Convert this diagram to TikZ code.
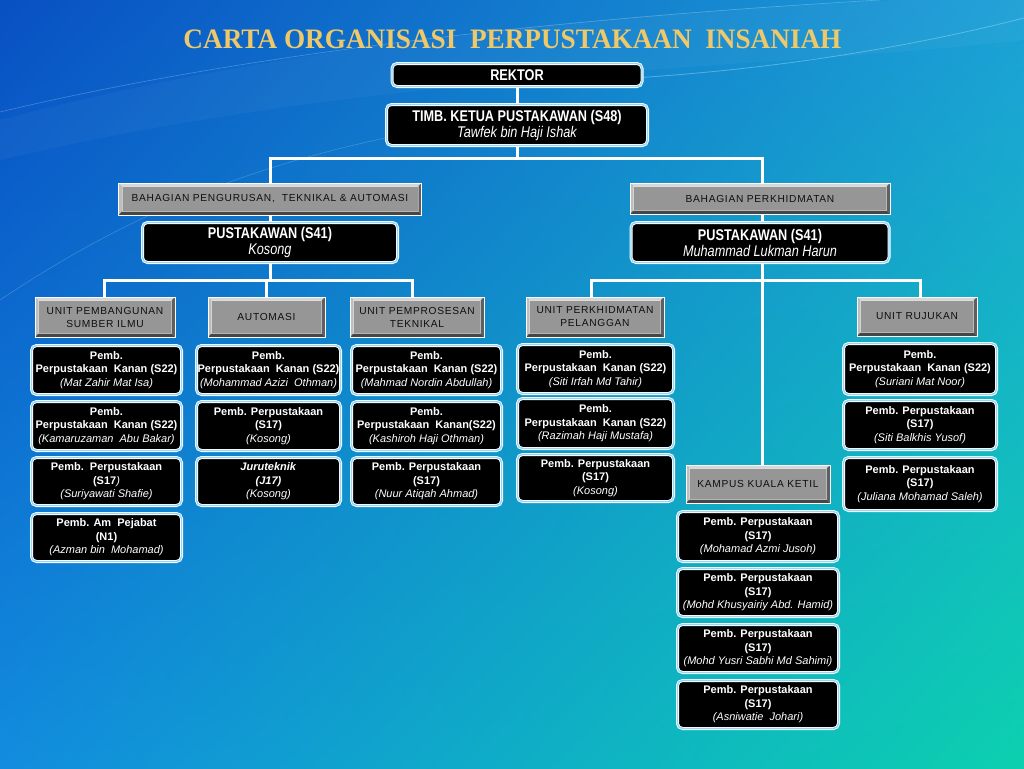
\documentclass[tikz,border=0pt]{standalone}
\usepackage{fontspec}
\setmainfont{Liberation Sans}
\newfontfamily\titlefont[FakeStretch=0.965]{Liberation Serif}
\newfontfamily\narrowfont[FakeStretch=0.82]{Liberation Sans}
\newfontfamily\greyfont[LetterSpace=7]{Liberation Sans}
\usetikzlibrary{calc,shadings}
\pgfdeclarelayer{bgl}
\pgfdeclarelayer{lnl}
\pgfsetlayers{bgl,lnl,main}
\definecolor{bgTL}{RGB}{8,80,195}
\definecolor{bgTR}{RGB}{28,160,215}
\definecolor{bgBL}{RGB}{18,140,222}
\definecolor{bgBR}{RGB}{12,208,175}
\definecolor{gold}{RGB}{238,200,105}
\definecolor{ringblue}{RGB}{150,215,245}
\definecolor{greyface}{RGB}{150,150,150}
\definecolor{bevlight}{RGB}{215,215,215}
\definecolor{bevmid}{RGB}{190,190,190}
\definecolor{bevdark}{RGB}{70,70,70}
\definecolor{bevdarktwo}{RGB}{95,95,95}
\definecolor{greytext}{RGB}{15,15,15}
\newcommand\pn[1]{{\mdseries\itshape #1}}
\tikzset{
  conn/.style={white, line width=3pt},
  blk/.style={rounded corners=5pt, fill=black, draw=white, double=ringblue,
    double distance=1.4pt, line width=0.8pt, text=white, align=center,
    inner sep=0pt, font=\fontsize{11}{13.5}\selectfont\bfseries},
  big/.style={blk, font=\narrowfont\fontsize{15.5}{16}\selectfont\bfseries},
  grey/.style={draw=white, line width=0.8pt, fill=greyface, text=greytext,
    align=center, inner sep=0pt, font=\greyfont\fontsize{10.2}{13}\selectfont,
    path picture={
      \fill[bevlight] (path picture bounding box.north west) -- (path picture bounding box.north east)
        -- ([xshift=-3.5pt,yshift=-3.5pt]path picture bounding box.north east)
        -- ([xshift=3.5pt,yshift=-3.5pt]path picture bounding box.north west) -- cycle;
      \fill[bevmid] (path picture bounding box.north west) -- (path picture bounding box.south west)
        -- ([xshift=3.5pt,yshift=3.5pt]path picture bounding box.south west)
        -- ([xshift=3.5pt,yshift=-3.5pt]path picture bounding box.north west) -- cycle;
      \fill[bevdark] (path picture bounding box.south west) -- (path picture bounding box.south east)
        -- ([xshift=-3.5pt,yshift=3.5pt]path picture bounding box.south east)
        -- ([xshift=3.5pt,yshift=3.5pt]path picture bounding box.south west) -- cycle;
      \fill[bevdarktwo] (path picture bounding box.north east) -- (path picture bounding box.south east)
        -- ([xshift=-3.5pt,yshift=3.5pt]path picture bounding box.south east)
        -- ([xshift=-3.5pt,yshift=-3.5pt]path picture bounding box.north east) -- cycle;
      \draw[white, opacity=0.45, line width=0.5pt] ([xshift=3.5pt,yshift=-3.5pt]path picture bounding box.north west)
        rectangle ([xshift=-3.5pt,yshift=3.5pt]path picture bounding box.south east);
    }},
  cA/.style={minimum width=150pt},
  cB/.style={minimum width=144pt},
  cC/.style={minimum width=150pt},
  cD/.style={minimum width=156pt},
  cE/.style={minimum width=161pt},
  cF/.style={minimum width=153pt},
}
\begin{document}
\begin{tikzpicture}[x=1pt,y=-1pt]
\useasboundingbox (0,0) rectangle (1024,768);
\begin{pgfonlayer}{bgl}
\shade[upper left=bgTL, upper right=bgTR, lower left=bgBL, lower right=bgBR] (0,0) rectangle (1024,768);
\fill[white, opacity=0.035] (0,120) .. controls (300,40) and (650,10) .. (900,0) -- (1024,0) -- (1024,40) .. controls (760,70) and (380,70) .. (0,160) -- cycle;
\draw[white, opacity=0.25, line width=0.6pt] (0,112) .. controls (280,45) and (620,15) .. (880,0);
\draw[white, opacity=0.2, line width=0.6pt] (0,300) .. controls (150,200) and (300,140) .. (560,110);
\draw[ringblue, opacity=0.5, line width=0.8pt] (420,82) .. controls (650,88) and (860,60) .. (1024,18);
\end{pgfonlayer}

% title
\node[font=\titlefont\fontsize{28.2}{30}\selectfont\bfseries, text=gold, anchor=base, inner sep=0pt] (title) at (512.5,48.5) {CARTA ORGANISASI\ \ PERPUSTAKAAN\ \ INSANIAH};

% top
\node[big, minimum width=250pt, minimum height=23pt] (rek) at (517,75) {REKTOR};
\node[big, minimum width=261pt, minimum height=41pt] (timb) at (517,125) {TIMB. KETUA PUSTAKAWAN (S48)\\\pn{Tawfek bin Haji Ishak}};

% divisions
\node[grey, minimum width=303pt, minimum height=32pt] (bahL) at (270,199) {BAHAGIAN PENGURUSAN,\ \ TEKNIKAL \& AUTOMASI};
\node[grey, minimum width=260pt, minimum height=31pt] (bahR) at (760,198.5) {BAHAGIAN PERKHIDMATAN};
\node[big, minimum width=255pt, minimum height=40pt] (pusL) at (270,242.5) {PUSTAKAWAN (S41)\\\pn{Kosong}};
\node[big, minimum width=258pt, minimum height=40pt] (pusR) at (760,242.5) {PUSTAKAWAN (S41)\\\pn{Muhammad Lukman Harun}};

% units
\node[grey, minimum width=140pt, minimum height=40pt] (uPSI) at (105,317) {UNIT PEMBANGUNAN\\SUMBER ILMU};
\node[grey, minimum width=117pt, minimum height=40pt] (uAuto) at (266.5,317) {AUTOMASI};
\node[grey, minimum width=134pt, minimum height=40pt] (uPT) at (417,317) {UNIT PEMPROSESAN\\TEKNIKAL};
\node[grey, minimum width=138pt, minimum height=40pt] (uPP) at (595,317) {UNIT PERKHIDMATAN\\PELANGGAN};
\node[grey, minimum width=120pt, minimum height=39pt] (uRuj) at (917,316.5) {UNIT RUJUKAN};
\node[grey, minimum width=144pt, minimum height=38pt] (kamp) at (758,484) {KAMPUS KUALA KETIL};

% column 1
\node[blk, cA, minimum height=49pt] (a1) at (106.5,370) {Pemb.\\Perpustakaan\ \ Kanan (S22)\\\pn{(Mat Zahir Mat Isa)}};
\node[blk, cA, minimum height=49pt] (a2) at (106.5,426) {Pemb.\\Perpustakaan\ \ Kanan (S22)\\\pn{(Kamaruzaman\ \ Abu Bakar)}};
\node[blk, cA, minimum height=48pt] (a3) at (106.5,481.5) {Pemb.\ \ Perpustakaan\\(S17\pn{)}\\\pn{(Suriyawati Shafie)}};
\node[blk, cA, minimum height=48pt] (a4) at (106.5,537.5) {Pemb. Am\ \ Pejabat\\(N1)\\\pn{(Azman bin\ \ Mohamad)}};
% column 2
\node[blk, cB, minimum height=49pt] (b1) at (268.5,370) {Pemb.\\Perpustakaan\ \ Kanan (S22)\\\pn{(Mohammad Azizi\ \ Othman)}};
\node[blk, cB, minimum height=49pt] (b2) at (268.5,426) {Pemb. Perpustakaan\\(S17)\\\pn{(Kosong)}};
\node[blk, cB, minimum height=48pt] (b3) at (268.5,481.5) {\textit{Juruteknik}\\\textit{(J17)}\\\pn{(Kosong)}};
% column 3
\node[blk, cC, minimum height=49pt] (c1) at (426.5,370) {Pemb.\\Perpustakaan\ \ Kanan (S22)\\\pn{(Mahmad Nordin Abdullah)}};
\node[blk, cC, minimum height=49pt] (c2) at (426.5,426) {Pemb.\\Perpustakaan\ \ Kanan(S22)\\\pn{(Kashiroh Haji Othman)}};
\node[blk, cC, minimum height=48pt] (c3) at (426.5,481.5) {Pemb. Perpustakaan\\(S17)\\\pn{(Nuur Atiqah Ahmad)}};
% column 4
\node[blk, cD, minimum height=49pt] (d1) at (595.5,369) {Pemb.\\Perpustakaan\ \ Kanan (S22)\\\pn{(Siti Irfah Md Tahir)}};
\node[blk, cD, minimum height=50pt] (d2) at (595.5,423.5) {Pemb.\\Perpustakaan\ \ Kanan (S22)\\\pn{(Razimah Haji Mustafa)}};
\node[blk, cD, minimum height=47pt] (d3) at (595.5,478) {Pemb. Perpustakaan\\(S17)\\\pn{(Kosong)}};
% column 5 (kampus)
\node[blk, cE, minimum height=50pt] (e1) at (758,536.5) {Pemb. Perpustakaan\\(S17)\\\pn{(Mohamad Azmi Jusoh)}};
\node[blk, cE, minimum height=48pt] (e2) at (758,592.5) {Pemb. Perpustakaan\\(S17)\\\pn{(Mohd Khusyairiy Abd. Hamid)}};
\node[blk, cE, minimum height=48pt] (e3) at (758,648.5) {Pemb. Perpustakaan\\(S17)\\\pn{(Mohd Yusri Sabhi Md Sahimi)}};
\node[blk, cE, minimum height=48pt] (e4) at (758,704.5) {Pemb. Perpustakaan\\(S17)\\\pn{(Asniwatie\ \ Johari)}};
% column 6
\node[blk, cF, minimum height=51pt] (f1) at (920,369) {Pemb.\\Perpustakaan\ \ Kanan (S22)\\\pn{(Suriani Mat Noor)}};
\node[blk, cF, minimum height=49pt] (f2) at (920,425) {Pemb. Perpustakaan\\(S17)\\\pn{(Siti Balkhis Yusof)}};
\node[blk, cF, minimum height=53pt] (f3) at (920,484) {Pemb. Perpustakaan\\(S17)\\\pn{(Juliana Mohamad Saleh)}};

% connectors
\begin{pgfonlayer}{lnl}
\coordinate (jT) at (517,158);
\coordinate (jL) at (270,158);
\coordinate (jR) at (762,158);
\coordinate (kL) at (270,280);
\coordinate (dPSI) at (104,280);
\coordinate (dPT) at (412,280);
\coordinate (kR) at (762,280);
\coordinate (dPP) at (591,280);
\coordinate (dRuj) at (920,280);
\draw[conn] (rek.center) -- (timb.center);
\draw[conn] (timb.center) -- (jT);
\draw[conn, line cap=rect] (jL) -- (jR);
\draw[conn] (jL) -- (bahL.center);
\draw[conn] (jR) -- (jR |- bahR.north);
\draw[conn] (bahL.center) -- (pusL.center);
\draw[conn] (pusL.center) -- (kL);
\draw[conn, line cap=rect] (dPSI) -- (dPT);
\draw[conn] (dPSI) -- (dPSI |- uPSI.center);
\draw[conn] (uAuto.center |- kL) -- (uAuto.center);
\draw[conn] (dPT) -- (dPT |- uPT.center);
\draw[conn] (jR |- bahR.south) -- (jR |- pusR.north);
\draw[conn] (jR |- pusR.south) -- (kR);
\draw[conn, line cap=rect] (dPP) -- (dRuj);
\draw[conn] (dPP) -- (dPP |- uPP.center);
\draw[conn] (dRuj) -- (dRuj |- uRuj.center);
\draw[conn] (kR) -- (kR |- kamp.north);
\end{pgfonlayer}
\end{tikzpicture}
\end{document}
